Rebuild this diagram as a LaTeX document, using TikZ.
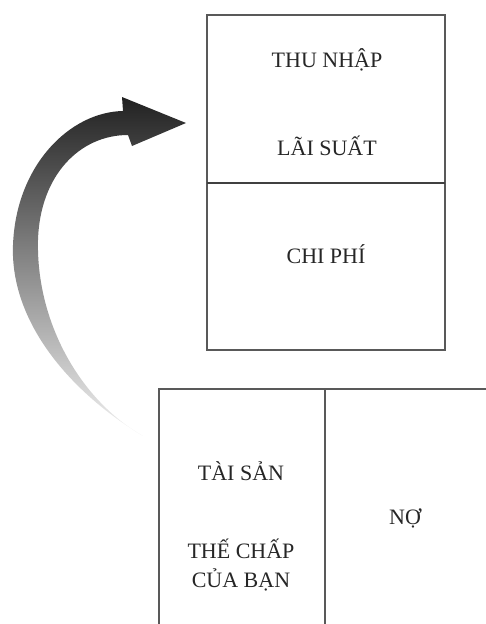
\documentclass[tikz,border=0pt]{standalone}
\usepackage{fontspec}
\setmainfont{Liberation Serif}
\begin{document}
\begin{tikzpicture}[x=1pt,y=-1pt,
  boxline/.style={draw=black!65,line width=1.3pt},
  lbl/.style={font=\fontsize{22}{26}\selectfont,text=black!85,anchor=base,inner sep=0pt}]
\useasboundingbox (0,0) rectangle (486,624);
% top box
\node[boxline,minimum width=238pt,minimum height=335pt,inner sep=0pt] (topbox) at (326,182.5) {};
\coordinate (tdl) at (207,183);
\coordinate (tdr) at (445,183);
\draw[boxline,draw=black!75] (tdl) -- (tdr);
\node[lbl] (thu) at (327,67) {THU NHẬP};
\node[lbl] (lai) at (327,155) {LÃI SUẤT};
\node[lbl] (chi) at (326,263) {CHI PHÍ};
% bottom box (open to the right and bottom)
\coordinate (bl) at (159,624);
\coordinate (btl) at (159,389);
\coordinate (btr) at (486,389);
\coordinate (bmt) at (325,389);
\coordinate (bmb) at (325,624);
\draw[boxline] (bl) -- (btl) -- (btr);
\draw[boxline] (bmt) -- (bmb);
\node[lbl] (tai) at (241,480) {TÀI SẢN};
\node[lbl] (the) at (241,558) {THẾ CHẤP};
\node[lbl] (cua) at (241,587) {CỦA BẠN};
\node[lbl] (no) at (405,524) {NỢ};
% curved shaded arrow
\shade[top color=black!87, bottom color=black!5]
  (143,436) .. controls (70,392) and (10,322) .. (13,245)
  .. controls (16,165) and (70,112) .. (123,111)
  -- (122,97) -- (186,123) -- (132,146) -- (128,135)
  .. controls (80,135) and (40,175) .. (38,240)
  .. controls (36,322) and (80,400) .. (143,436) -- cycle;
\end{tikzpicture}
\end{document}
